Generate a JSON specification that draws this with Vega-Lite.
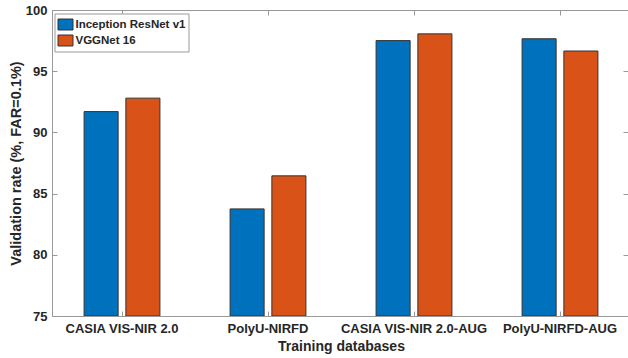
{
  "$schema": "https://vega.github.io/schema/vega-lite/v6.json",
  "autosize": {"type": "none"},
  "padding": {"left": 52, "top": 10, "right": 0, "bottom": 42},
  "width": 576,
  "height": 306,
  "background": "white",
  "data": {
    "values": [
      {"db": "CASIA VIS-NIR 2.0", "model": "Inception ResNet v1", "value": 91.7},
      {"db": "CASIA VIS-NIR 2.0", "model": "VGGNet 16", "value": 92.8},
      {"db": "PolyU-NIRFD", "model": "Inception ResNet v1", "value": 83.75},
      {"db": "PolyU-NIRFD", "model": "VGGNet 16", "value": 86.45},
      {"db": "CASIA VIS-NIR 2.0-AUG", "model": "Inception ResNet v1", "value": 97.5},
      {"db": "CASIA VIS-NIR 2.0-AUG", "model": "VGGNet 16", "value": 98.05},
      {"db": "PolyU-NIRFD-AUG", "model": "Inception ResNet v1", "value": 97.65},
      {"db": "PolyU-NIRFD-AUG", "model": "VGGNet 16", "value": 96.65}
    ]
  },
  "layer": [
    {
      "mark": {"type": "bar", "stroke": "#333333", "strokeWidth": 1, "clip": true},
      "encoding": {
        "x": {
          "field": "db", "type": "nominal",
          "sort": ["CASIA VIS-NIR 2.0", "PolyU-NIRFD", "CASIA VIS-NIR 2.0-AUG", "PolyU-NIRFD-AUG"],
          "scale": {"range": [-3, 581], "paddingInner": 0, "paddingOuter": 0},
          "axis": {
            "orient": "bottom", "title": "Training databases", "labelAngle": 0,
            "tickSize": -5, "labelPadding": 11, "titleFontSize": 14, "titlePadding": 4
          }
        },
        "xOffset": {
          "field": "model", "type": "nominal",
          "scale": {"paddingInner": 0.185, "paddingOuter": 0.84}
        },
        "y": {
          "field": "value", "type": "quantitative",
          "scale": {"domain": [75, 100], "nice": false, "zero": false},
          "axis": {
            "orient": "left", "title": "Validation rate (%, FAR=0.1%)",
            "values": [75, 80, 85, 90, 95, 100], "tickSize": -5, "labelPadding": 10,
            "titleFontSize": 14.5, "titlePadding": 2
          }
        },
        "y2": {"datum": 75},
        "color": {
          "field": "model", "type": "nominal",
          "scale": {"domain": ["Inception ResNet v1", "VGGNet 16"], "range": ["#0072BD", "#D95319"]},
          "legend": {
            "orient": "none", "legendX": 2.5, "legendY": 3.5, "title": null,
            "padding": 3, "strokeColor": "#999999", "fillColor": "white",
            "symbolType": "M-1,-0.733L1,-0.733L1,0.733L-1,0.733Z", "symbolSize": 225,
            "symbolStrokeColor": "#333333", "symbolStrokeWidth": 1, "symbolOpacity": 1,
            "labelFontSize": 11.5, "labelFontWeight": "bold", "labelColor": "#262626",
            "labelOffset": 2, "rowPadding": 0, "labelFont": "Liberation Sans"
          }
        }
      }
    },
    {
      "mark": {"type": "bar", "opacity": 0, "clip": true},
      "encoding": {
        "x": {
          "field": "db", "type": "nominal",
          "sort": ["CASIA VIS-NIR 2.0", "PolyU-NIRFD", "CASIA VIS-NIR 2.0-AUG", "PolyU-NIRFD-AUG"],
          "axis": {"orient": "top", "title": null, "labels": false, "tickSize": -5}
        },
        "y": {
          "field": "value", "type": "quantitative",
          "axis": {"orient": "right", "title": null, "labels": false, "values": [75, 80, 85, 90, 95, 100], "tickSize": -5}
        }
      }
    }
  ],
  "resolve": {"axis": {"x": "independent", "y": "independent"}},
  "config": {
    "font": "Liberation Sans",
    "view": {"stroke": "#999999", "strokeWidth": 1},
    "axis": {
      "domain": false, "grid": false, "tickColor": "#999999", "tickWidth": 1,
      "labelFont": "Liberation Sans", "labelFontSize": 13, "labelFontWeight": "bold", "labelColor": "#262626",
      "titleFont": "Liberation Sans", "titleFontWeight": "bold", "titleColor": "#262626"
    }
  }
}
